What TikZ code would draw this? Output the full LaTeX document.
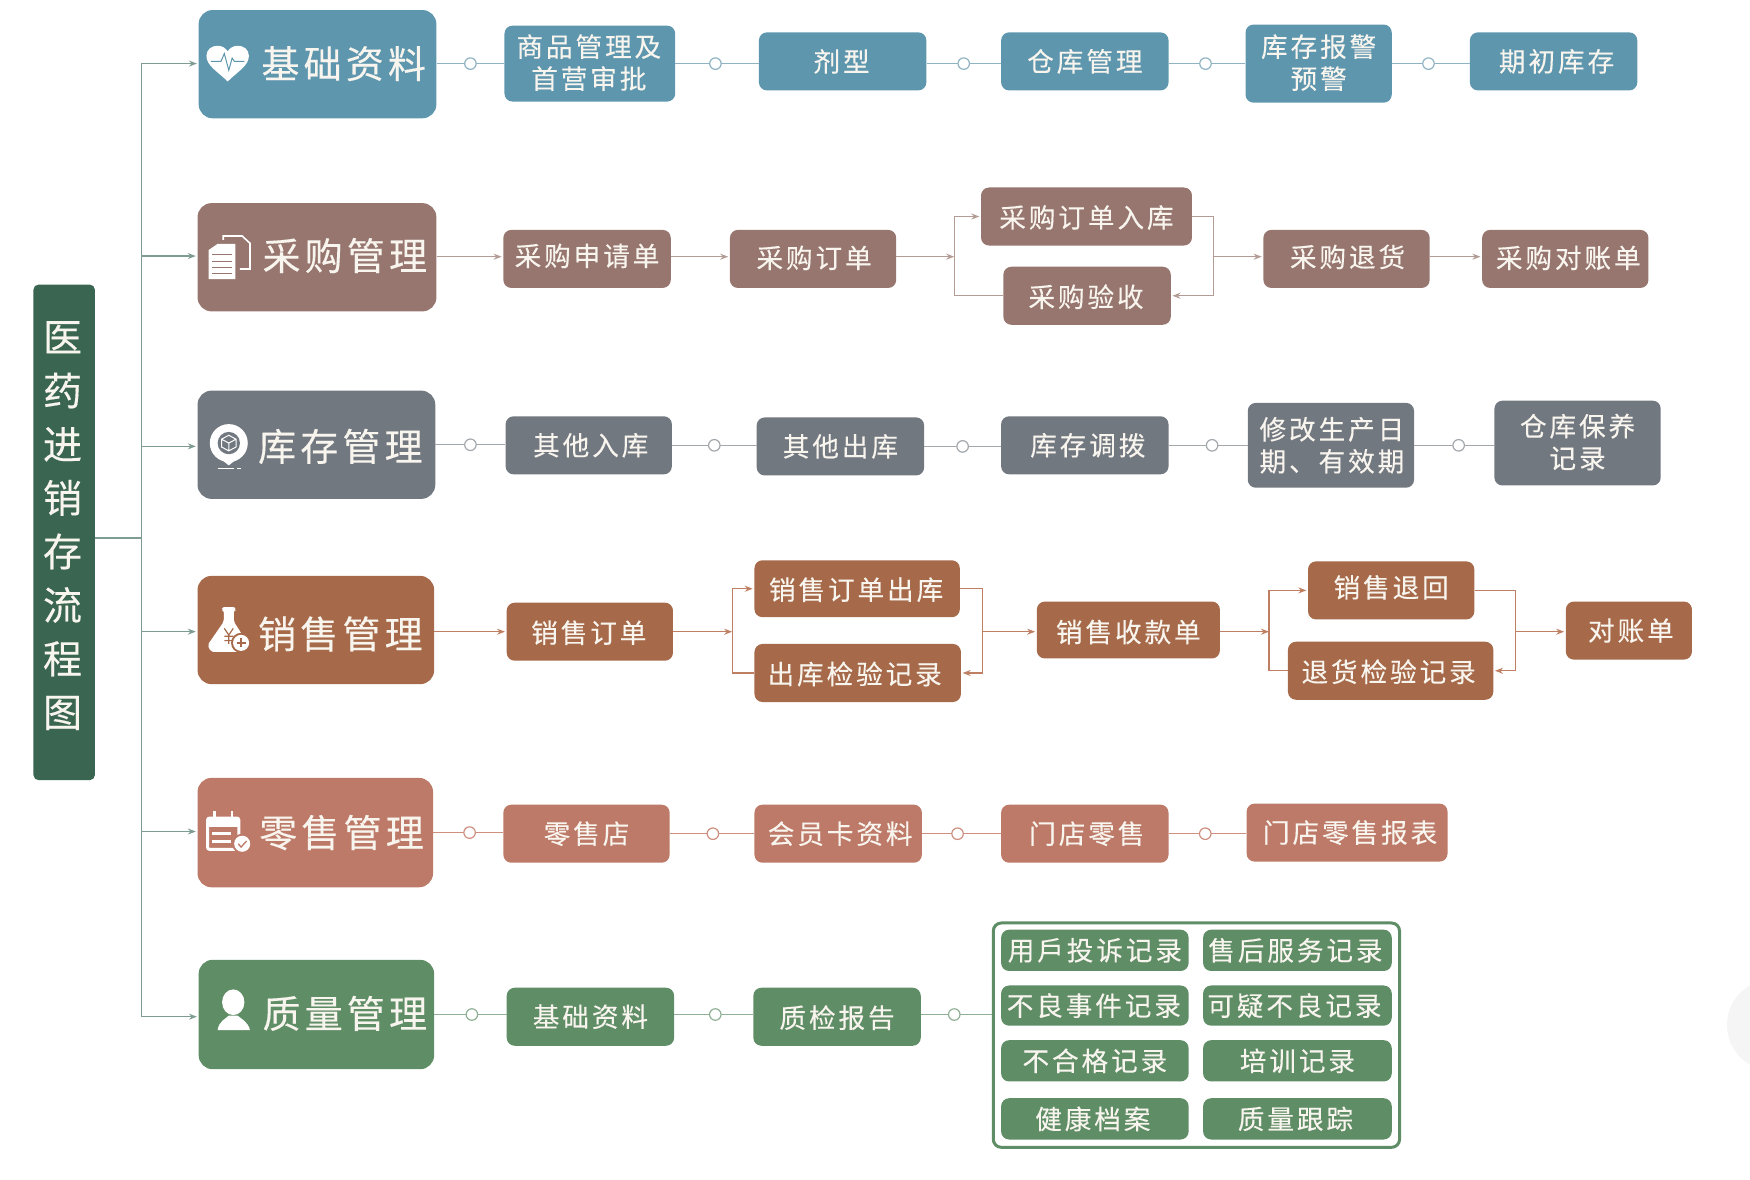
\documentclass[tikz,border=0pt]{standalone}
\usepackage{fontspec}
\usetikzlibrary{arrows.meta,calc}
\newfontfamily\cjk[LetterSpace=11,FakeBold=0.25]{Noto Sans CJK SC}
\definecolor{cRoot}{HTML}{3A6651}
\definecolor{cA}{HTML}{5E96AE}
\definecolor{cB}{HTML}{96766E}
\definecolor{cC}{HTML}{727880}
\definecolor{cD}{HTML}{A66A4A}
\definecolor{cE}{HTML}{BE7A68}
\definecolor{cF}{HTML}{5F8D66}
\definecolor{lA}{HTML}{8FB3C2}
\definecolor{lB}{HTML}{B39C95}
\definecolor{lC}{HTML}{A3A8AD}
\definecolor{lD}{HTML}{BF7F62}
\definecolor{lE}{HTML}{CE8F7E}
\definecolor{lF}{HTML}{8FB095}
\definecolor{lT}{HTML}{7F9C93}
\definecolor{ink}{HTML}{F8F4EE}
\tikzset{
 itembox/.style={rounded corners=8pt,inner sep=0pt},
 itemtext/.style={inner sep=0pt,text=ink,align=center,font=\cjk\fontsize{26.6}{32}\selectfont},
 catbox/.style={rounded corners=14pt,inner sep=0pt},
 cattext/.style={inner sep=0pt,text=ink,font=\cjk\fontsize{38}{44}\selectfont},
 conn/.style={draw=#1,line width=1.3pt},
 arr/.style={draw=#1,line width=1.3pt,-{Stealth[length=8pt,width=6pt]},shorten >=1.5pt},
 ring/.style={circle,draw=#1,fill=white,line width=1.2pt,minimum size=11.5pt,inner sep=0pt},
}
\newcommand{\bx}[8][]{\node[itembox,fill=#7,minimum width={(#5-#3)*1.11607pt},minimum height={(#6-#4)*1.11607pt}] (#2) at ({(#3+#5)/2},{(#4+#6)/2}) {};
\node[itemtext,#1] (#2t) at (#2) {#8};}
\newcommand{\cat}[6]{\node[catbox,fill=#6,minimum width={(#4-#2)*1.11607pt},minimum height={(#5-#3)*1.11607pt}] (#1) at ({(#2+#4)/2},{(#3+#5)/2}) {};}
\newcommand{\lnk}[4][0.5]{\draw[conn=#4] (#2.east) -- node[ring=#4,pos=#1]{} (#2.east -| #3.west);}
\begin{document}
\begin{tikzpicture}[x=1.11607pt,y=-1.11607pt]
\useasboundingbox (0,0) rectangle (1568,1057.27);
\begin{scope}
\clip (0,0) rectangle (1568,1057.27);
\fill[gray!8] (1588.6,918.4) circle (41.2);
\end{scope}
% root
\node[rounded corners=5pt,fill=cRoot,minimum width={55*1.11607pt},minimum height={444*1.11607pt},inner sep=0pt] (root) at (57.5,477) {};
\node[inner sep=0pt,text=ink,align=center,font=\cjk\fontsize{39}{53.6}\selectfont] (rootlabel) at (56,471) {医\\药\\进\\销\\存\\流\\程\\图};
% categories
\cat{c1}{178}{9}{391}{106}{cA}
\cat{c2}{177}{182}{391}{279}{cB}
\cat{c3}{177}{350}{390}{447}{cC}
\cat{c4}{177}{516}{389}{613}{cD}
\cat{c5}{177}{697}{388}{795}{cE}
\cat{c6}{178}{860}{389}{958}{cF}
\node[cattext] (t1) at (308,57) {基础资料};
\node[cattext] (t2) at (309,229) {采购管理};
\node[cattext] (t3) at (305,400) {库存管理};
\node[cattext] (t4) at (305,568) {销售管理};
\node[cattext] (t5) at (306,746) {零售管理};
\node[cattext] (t6) at (309,908) {质量管理};
% trunk
\coordinate (tr) at (127,482);
\draw[conn=lT] (root.east |- tr) -- (tr);
\draw[arr=lT] (tr) |- ([yshift=0.6pt]c1.west);
\draw[arr=lT] (tr) |- ([yshift=1.2pt]c2.west);
\draw[arr=lT] (tr) |- ([yshift=-1.6pt]c3.west);
\draw[arr=lT] (tr) |- ([yshift=-1.6pt]c4.west);
\draw[arr=lT] (tr) |- ([yshift=1.1pt]c5.west);
\draw[arr=lT] (tr) |- ([yshift=-2.2pt]c6.west);
% row 1
\bx[xshift=-1pt,yshift=1pt]{a1}{452}{23}{605}{91}{cA}{商品管理及\\首营审批}
\bx[xshift=-1pt]{a2}{680}{29}{830}{81}{cA}{剂型}
\bx{a3}{897}{29}{1047}{81}{cA}{仓库管理}
\bx[yshift=1pt]{a4}{1116}{22}{1247}{92}{cA}{库存报警\\预警}
\bx[xshift=3pt]{a5}{1317}{29}{1467}{81}{cA}{期初库存}
\coordinate (ya) at (0,57);
\draw[conn=lA] (c1.east |- ya) -- node[ring=lA]{} (a1.west |- ya);
\draw[conn=lA] (a1.east |- ya) -- node[ring=lA,pos=0.48]{} (a2.west |- ya);
\draw[conn=lA] (a2.east |- ya) -- node[ring=lA]{} (a3.west |- ya);
\draw[conn=lA] (a3.east |- ya) -- node[ring=lA,pos=0.48]{} (a4.west |- ya);
\draw[conn=lA] (a4.east |- ya) -- node[ring=lA,pos=0.47]{} (a5.west |- ya);
% row 2
\bx[yshift=3pt]{b1}{451}{206}{601}{258}{cB}{采购申请单}
\bx[xshift=1pt,yshift=1pt]{b2}{654}{206}{803}{258}{cB}{采购订单}
\bx[yshift=-1pt]{b3}{879}{168}{1068}{220}{cB}{采购订单入库}
\bx[xshift=-1pt,yshift=-1pt]{b4}{899}{239}{1049}{291}{cB}{采购验收}
\bx[xshift=1pt,yshift=2pt]{b5}{1132}{206}{1281}{258}{cB}{采购退货}
\bx[xshift=3pt,yshift=1pt]{b6}{1328}{206}{1477}{258}{cB}{采购对账单}
\coordinate (jb1) at (855,230);
\coordinate (jb2) at (1087,230);
\draw[arr=lB] (c2.east |- jb1) -- (b1.west |- jb1);
\draw[arr=lB] (b1.east |- jb1) -- (b2.west |- jb1);
\draw[arr=lB,shorten >=0pt] (b2.east |- jb1) -- (jb1);
\draw[arr=lB] (jb1) |- (b3.west);
\draw[conn=lB] (jb1) |- (b4.west);
\draw[conn=lB] (b3.east) -| (jb2);
\draw[arr=lB] (jb2) |- (b4.east);
\draw[arr=lB] (jb2) -- (b5.west |- jb2);
\draw[arr=lB] (b5.east |- jb2) -- (b6.west |- jb2);
% row 3
\bx[xshift=2pt]{d1}{453}{373}{602}{425}{cC}{其他入库}
\bx{d2}{678}{374}{828}{426}{cC}{其他出库}
\bx[xshift=3pt]{d3}{897}{373}{1047}{425}{cC}{库存调拨}
\bx[xshift=1pt]{d4}{1118}{361}{1267}{437}{cC}{修改生产日\\期、有效期}
\bx[yshift=1pt]{d5}{1339}{359}{1488}{435}{cC}{仓库保养\\记录}
\lnk{c3}{d1}{lC}
\lnk{d1}{d2}{lC}
\lnk{d2}{d3}{lC}
\lnk[0.55]{d3}{d4}{lC}
\lnk[0.555]{d4}{d5}{lC}
% row 4
\bx[xshift=-1pt,yshift=-1pt]{e1}{454}{540}{603}{592}{cD}{销售订单}
\bx[xshift=-1pt,yshift=-1pt]{e2}{676}{502}{860}{553}{cD}{销售订单出库}
\bx[xshift=-3pt,yshift=-1pt]{e3}{676}{577}{861}{629}{cD}{出库检验记录}
\bx[yshift=-2pt]{e4}{929}{539}{1093}{590}{cD}{销售收款单}
\bx[yshift=3pt]{e5}{1172}{503}{1321}{555}{cD}{销售退回}
\bx[xshift=-2pt,yshift=-1pt]{e6}{1154}{575}{1338}{627}{cD}{退货检验记录}
\bx[xshift=2pt]{e7}{1403}{539}{1516}{591}{cD}{对账单}
\coordinate (je1) at (656,566);
\coordinate (je2) at (880,566);
\coordinate (je3) at (1137,566);
\coordinate (je4) at (1358,566);
\draw[arr=lD] (c4.east |- e1.west) -- (e1.west);
\draw[arr=lD,shorten >=0pt] (e1.east) -- (je1);
\draw[arr=lD] (je1) |- (e2.west);
\draw[conn=lD] (je1) |- (e3.west);
\draw[conn=lD] (e2.east) -| (je2);
\draw[arr=lD] (je2) |- (e3.east);
\draw[arr=lD] (je2) -- (je2 -| e4.west);
\draw[arr=lD,shorten >=0pt] (e4.east |- je3) -- (je3);
\draw[arr=lD] (je3) |- (e5.west);
\draw[conn=lD] (je3) |- (e6.west);
\draw[conn=lD] (e5.east) -| (je4);
\draw[arr=lD] (je4) |- (e6.east);
\draw[arr=lD] (je4) -- (je4 -| e7.west);
% row 5
\bx{f1}{451}{721}{600}{773}{cE}{零售店}
\bx[xshift=2pt]{f2}{676}{721}{826}{773}{cE}{会员卡资料}
\bx[xshift=2pt]{f3}{897}{721}{1047}{773}{cE}{门店零售}
\bx[xshift=3pt]{f4}{1117}{720}{1297}{772}{cE}{门店零售报表}
\lnk[0.52]{c5}{f1}{lE}
\lnk[0.51]{f1}{f2}{lE}
\lnk[0.45]{f2}{f3}{lE}
\lnk[0.47]{f3}{f4}{lE}
% row 6
\bx{g1}{454}{885}{604}{937}{cF}{基础资料}
\bx[yshift=-1pt]{g2}{675}{885}{825}{937}{cF}{质检报告}
\node[draw=cF,line width=3pt,rounded corners=8pt,fill=white,minimum width={364*1.11607pt},minimum height={201*1.11607pt},inner sep=0pt] (g3) at (1072,927.5) {};
\coordinate (yg) at (0,909);
\draw[conn=lF] (c6.east |- yg) -- node[ring=lF,pos=0.52]{} (g1.west |- yg);
\draw[conn=lF] (g1.east |- yg) -- node[ring=lF,pos=0.52]{} (g2.west |- yg);
\draw[conn=lF] (g2.east |- yg) -- node[ring=lF,pos=0.47]{} (g3.west |- yg);
\bx{h1}{897}{833}{1065}{870}{cF}{用戶投诉记录}
\bx[xshift=-2pt]{h2}{1078}{833}{1247}{870}{cF}{售后服务记录}
\bx[xshift=-1pt]{h3}{897}{883}{1065}{919}{cF}{不良事件记录}
\bx[xshift=-3pt]{h4}{1078}{883}{1247}{919}{cF}{可疑不良记录}
\bx{h5}{897}{932}{1065}{969}{cF}{不合格记录}
\bx{h6}{1078}{932}{1247}{969}{cF}{培训记录}
\bx[xshift=-2pt]{h7}{897}{984}{1065}{1021}{cF}{健康档案}
\bx[xshift=-2pt]{h8}{1078}{984}{1247}{1021}{cF}{质量跟踪}
% icon: heart
\fill[white] (204,73) .. controls (195,64) and (185,59) .. (185,50) .. controls (185,44) and (190,41) .. (195,41) .. controls (199,41) and (202,43) .. (204,46) .. controls (206,43) and (209,41) .. (213,41) .. controls (218,41) and (223,44) .. (223,50) .. controls (223,59) and (213,64) .. (204,73) -- cycle;
\draw[cA,line width=1pt] (189,55) -- (198,55) -- (201,48) -- (205,63) -- (208,52) -- (210,55) -- (219,55);
% icon: documents
\draw[white,line width=1.6pt] (200,215) -- (200,211.5) -- (217,211.5) -- (224,218) -- (224,241) -- (215,241);
\fill[white] (187,224) -- (195,218.5) -- (211,218.5) -- (211,250) -- (187,250) -- cycle;
\foreach \yy in {228,234,240,245}{\draw[cB,line width=1pt] (190,\yy) -- (208,\yy);}
% icon: pin
\fill[white] (190,405) -- (205,417) -- (220,405) -- (205,395) -- cycle;
\fill[white] (205,397) circle (17);
\fill[cC] (205,397) circle (10);
\draw[white,line width=1pt] (205,390) -- (211.5,393.5) -- (211.5,400.5) -- (205,404) -- (198.5,400.5) -- (198.5,393.5) -- cycle (198.5,393.5) -- (205,397) -- (211.5,393.5) (205,397) -- (205,404);
\draw[white,line width=1pt] (195,419.5) -- (210,419.5) (212,419.5) -- (216,419.5);
% icon: flask
\fill[white,rounded corners=2pt] (199,544) -- (211,544) -- (211,547) -- (209.5,547) -- (209.5,557) -- (223,578) -- (220,584) -- (189,584) -- (186,578) -- (200.5,557) -- (200.5,547) -- (199,547) -- cycle;
\draw[cD,line width=1.2pt] (201,563) -- (205,569) -- (209,563) (205,569) -- (205,577) (201,570) -- (209,570) (201,574) -- (209,574);
\fill[cD] (216,576) circle (9);
\fill[white] (216,576) circle (7.2);
\draw[cD,line width=1.3pt] (212,576) -- (220,576) (216,572) -- (216,580);
% icon: calendar
\draw[white,line width=3pt,rounded corners=2pt] (186,733) rectangle (214,761);
\fill[white] (186,733) rectangle (214,741);
\draw[white,line width=2.6pt] (192,727) -- (192,733) (208,727) -- (208,733);
\draw[white,line width=2.6pt] (190,747) -- (207,747) (190,754) -- (207,754);
\fill[cE] (217,756) circle (9);
\fill[white] (217,756) circle (7.2);
\draw[cE,line width=1.3pt] (213.5,756) -- (216,759) -- (221,753.5);
% icon: person
\fill[white] (209,898) ellipse (10 and 11.5);
\fill[white] (195,923) .. controls (196,915) and (202,913) .. (205,910) -- (213,910) .. controls (216,913) and (222,915) .. (224,923) -- cycle;
\end{tikzpicture}
\end{document}
